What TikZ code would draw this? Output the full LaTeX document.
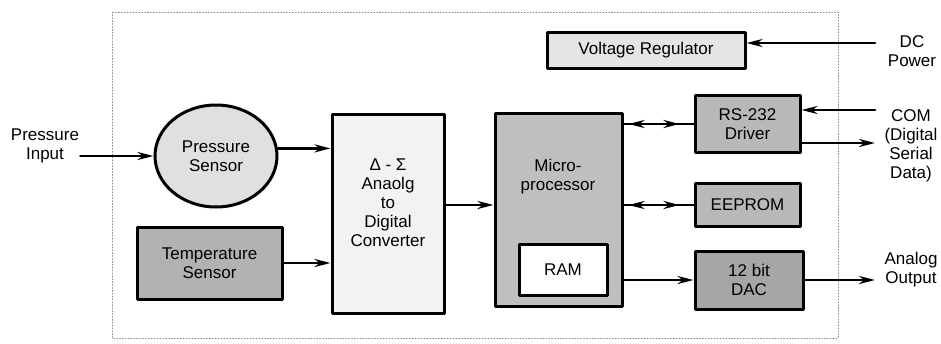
\documentclass[tikz,border=0pt]{standalone}
\usepackage{fontspec}
\setmainfont{Liberation Sans}
\usetikzlibrary{shapes.geometric,arrows.meta,decorations.markings}
\begin{document}
\begin{tikzpicture}[x=1pt,y=-1pt,line join=round,line cap=round,>={Stealth[length=16pt,width=8pt]},line width=2.8pt]
	\tikzset{every node/.style={font=\fontsize{17}{19}\selectfont,align=center,inner sep=0pt},
		blk/.style={draw,rectangle,line width=3pt},
		bidir/.style={postaction={decorate},decoration={markings,mark=at position 0.3 with {\arrow{<}},mark=at position 0.8 with {\arrow{>}}}}}
	\useasboundingbox (0,0) rectangle (941,343);
	\draw[black!45,dotted,line width=0.9pt] (112,12) rectangle (838,338);
	\node (pin) at (45,146) {Pressure\\Input};
	\node[draw,ellipse,line width=3pt,fill=black!12,minimum width=122pt,minimum height=102pt] (ps) at (216,156) {Pressure\\Sensor};
	\node[blk,fill=black!30,minimum width=145pt,minimum height=72pt] (temp) at (209.5,263) {Temperature\\Sensor};
	\node[blk,fill=black!5,minimum width=112pt,minimum height=199pt] (ad) at (388,213.5) {};
	\node (adtext) at (388,203) {Δ - Σ\\Anaolg\\to\\Digital\\Converter};
	\node[blk,fill=black!25,minimum width=127pt,minimum height=193pt] (micro) at (558.5,209.5) {};
	\node (mptext) at (558,177) {Micro-\\processor};
	\node[blk,fill=white,minimum width=88pt,minimum height=51pt] (ram) at (563,269.5) {RAM};
	\node[blk,fill=black!10,minimum width=198pt,minimum height=36pt] (vreg) at (646,50) {Voltage Regulator};
	\node[blk,fill=black!28,minimum width=105pt,minimum height=57pt] (rs) at (747.5,124) {RS-232\\Driver};
	\node[blk,fill=black!28,minimum width=105pt,minimum height=43pt] (eeprom) at (747.5,205) {EEPROM};
	\node[blk,fill=black!35,minimum width=108pt,minimum height=58pt] (dac) at (749,280) {12 bit\\DAC};
	\node (dcp) at (912,51) {DC\\Power};
	\node (com) at (911,146) {COM\\(Digital\\Serial\\Data)};
	\node (aout) at (911,270) {Analog\\Output};
	\coordinate (dcin) at (875,43);
	\coordinate (comin) at (875,110);
	\coordinate (comout) at (875,143);
	\coordinate (aend) at (875,280);
	\draw[->] (pin.east |- ps.west) -- (ps.west);
	\draw[->] (ps.7) -- (ps.7 -| ad.west);
	\draw[->] (temp.east) -- (temp.east -| ad.west);
	\draw[->] (ad.east |- eeprom.west) -- (micro.west |- eeprom.west);
	\draw[bidir] (micro.east |- rs.west) -- (rs.west);
	\draw[bidir] (micro.east |- eeprom.west) -- (eeprom.west);
	\draw[->] (micro.east |- dac.west) -- (dac.west);
	\draw[->] (dac.east) -- (aend);
	\draw[->] (dcin) -- (dcin -| vreg.east);
	\draw[->] (comin) -- (comin -| rs.east);
	\draw[->] (comout -| rs.east) -- (comout);
\end{tikzpicture}
\end{document}
